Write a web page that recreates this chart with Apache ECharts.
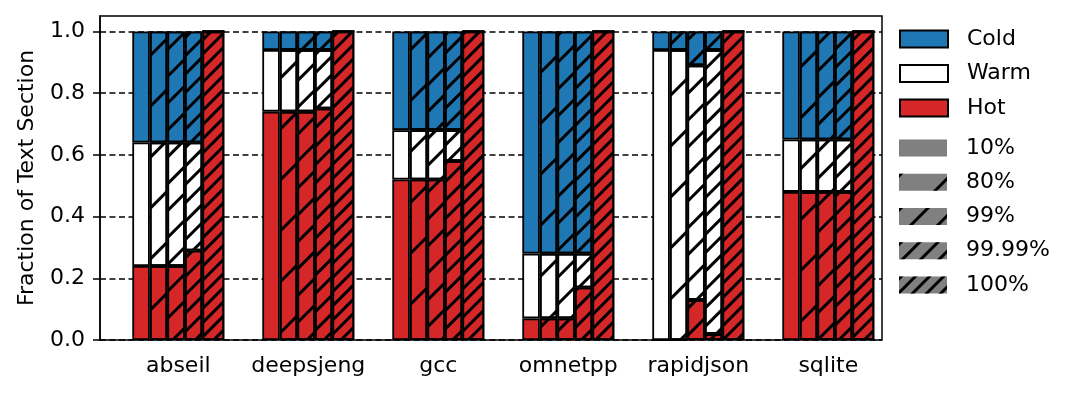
<!DOCTYPE html>
<html>
<head>
<meta charset="utf-8">
<script src="https://cdn.jsdelivr.net/npm/echarts@6/dist/echarts.min.js"></script>
<style>
html, body { margin: 0; padding: 0; background: #fff; }
#mainChart { width: 1080px; height: 396px; }
</style>
</head>
<body>
<div id="mainChart"></div>
<script>
// benchmarks on the x axis, one bar per coverage threshold in each group
var categories = ["abseil", "deepsjeng", "gcc", "omnetpp", "rapidjson", "sqlite"];
var thresholds = ["10%", "80%", "99%", "99.99%", "100%"];
var classNames = ["Hot", "Warm", "Cold"];

// fraction of the text section per class, one row per threshold
var hotFrac = [
    [0.24, 0.74, 0.52, 0.07, 0.00, 0.48],
    [0.24, 0.74, 0.52, 0.07, 0.00, 0.48],
    [0.24, 0.74, 0.52, 0.07, 0.13, 0.48],
    [0.29, 0.75, 0.58, 0.17, 0.02, 0.48],
    [1.00, 1.00, 1.00, 1.00, 1.00, 1.00]
];
var warmFrac = [
    [0.40, 0.20, 0.16, 0.21, 0.94, 0.17],
    [0.40, 0.20, 0.16, 0.21, 0.94, 0.17],
    [0.40, 0.20, 0.16, 0.21, 0.76, 0.17],
    [0.35, 0.19, 0.10, 0.11, 0.92, 0.17],
    [0, 0, 0, 0, 0, 0]
];
var coldFrac = [
    [0.36, 0.06, 0.32, 0.72, 0.06, 0.35],
    [0.36, 0.06, 0.32, 0.72, 0.06, 0.35],
    [0.36, 0.06, 0.32, 0.72, 0.11, 0.35],
    [0.36, 0.06, 0.32, 0.72, 0.06, 0.35],
    [0, 0, 0, 0, 0, 0]
];
var yTicks = [0, 0.2, 0.4, 0.6, 0.8, 1.0];

var classColors = ["#d62728", "#ffffff", "#1f77b4"];
var barWidths = [17.5, 17.5, 17.5, 17.5, 22];
var hatchPeriod = [0, 35, 18, 12, 9];
var font = "DejaVu Sans";

function hatch(i) {
    if (!hatchPeriod[i]) return null;
    return {
        symbol: "rect",
        symbolSize: 1,
        color: "#000",
        backgroundColor: "rgba(0,0,0,0)",
        dashArrayX: [1, 0],
        dashArrayY: [2.2, hatchPeriod[i] - 2.2],
        rotation: -Math.PI / 4
    };
}

var myChart = echarts.init(document.getElementById("mainChart"));

var series = [];
for (var t = 0; t < thresholds.length; t++) {
    var vals = [hotFrac[t], warmFrac[t], coldFrac[t]];
    for (var c = 0; c < 3; c++) {
        series.push({
            name: classNames[c],
            type: "bar",
            xAxisIndex: 1,
            yAxisIndex: 1,
            stack: "t" + t,
            barWidth: barWidths[t],
            barGap: "0%",
            data: vals[c],
            itemStyle: {
                color: classColors[c],
                borderColor: "#000",
                borderWidth: 1.8,
                decal: hatch(t)
            }
        });
    }
}
// legend entries for the hatch patterns
for (var t = 0; t < thresholds.length; t++) {
    series.push({
        name: thresholds[t],
        type: "bar",
        xAxisIndex: 0,
        yAxisIndex: 0,
        data: [],
        itemStyle: {
            color: "#808080",
            borderWidth: 0,
            decal: hatch(t)
        }
    });
}

var legendText = {
    fontSize: 22,
    color: "#000",
    fontFamily: font,
    padding: [0, 0, 0, 14]
};

var option = {
    animation: false,
    textStyle: { fontFamily: font },
    grid: [{
        left: 100, top: 16, width: 782, height: 324,
        show: true, borderColor: "#000", borderWidth: 1.5,
        backgroundColor: "rgba(0,0,0,0)"
    }, {
        left: 113.3, top: 16, width: 780, height: 324
    }],
    legend: [{
        data: classNames.slice().reverse(),
        orient: "vertical",
        left: 899, top: 28,
        padding: 0,
        itemWidth: 48, itemHeight: 17, itemGap: 12.5,
        icon: "rect",
        selectedMode: false,
        textStyle: legendText
    }, {
        data: thresholds,
        orient: "vertical",
        left: 899, top: 137,
        padding: 0,
        itemWidth: 48, itemHeight: 17, itemGap: 12.25,
        icon: "rect",
        selectedMode: false,
        textStyle: legendText
    }],
    xAxis: [{
        gridIndex: 0,
        type: "category",
        data: categories,
        show: false
    }, {
        gridIndex: 1,
        type: "category",
        data: categories,
        axisLine: { show: false },
        axisTick: {
            alignWithLabel: true,
            length: 7,
            lineStyle: { color: "#000", width: 1.5 }
        },
        axisLabel: { interval: 0, margin: 15, fontSize: 22, color: "#000", fontFamily: font }
    }],
    yAxis: [{
        gridIndex: 0,
        type: "value",
        min: 0,
        max: 1.05,
        interval: 0.2,
        name: "Fraction of Text Section",
        nameLocation: "middle",
        nameGap: 62,
        nameTextStyle: { fontSize: 22, color: "#000", fontFamily: font },
        axisLine: { show: true, lineStyle: { color: "#000", width: 1.5 } },
        axisTick: {
            show: true, length: 7,
            lineStyle: { color: "#000", width: 1.5 },
            customValues: yTicks
        },
        axisLabel: {
            margin: 15, fontSize: 22, color: "#000", fontFamily: font,
            customValues: yTicks,
            formatter: function (v) { return v.toFixed(1); }
        },
        splitLine: {
            show: true,
            lineStyle: { color: "#000", width: 1.5, type: [6, 3.5] }
        }
    }, {
        gridIndex: 1,
        type: "value",
        min: 0,
        max: 1.05,
        show: false,
        splitLine: { show: false }
    }],
    series: series
};

myChart.setOption(option);
</script>
</body>
</html>
